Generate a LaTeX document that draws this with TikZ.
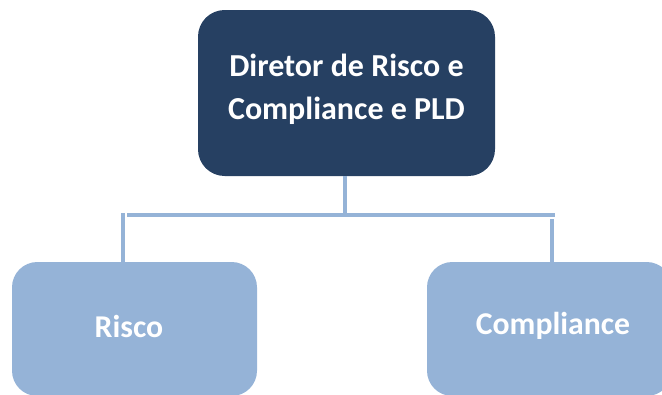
\documentclass[tikz,border=0pt]{standalone}
\usepackage{fontspec}
\setmainfont{Carlito}
\definecolor{navy}{HTML}{264062}
\definecolor{lightb}{HTML}{95B3D7}
\begin{document}
\begin{tikzpicture}[x=0.75pt,y=-0.75pt,
  topbox/.style={draw=none,fill=navy,rounded corners=20pt,minimum width=222.75pt,minimum height=124.5pt,inner sep=0pt},
  subbox/.style={draw=none,fill=lightb,rounded corners=19pt,minimum width=183.75pt,minimum height=100.5pt,inner sep=0pt},
  lbl/.style={text=white,font=\bfseries,align=center},
  conn/.style={draw=lightb,line width=2.4pt}]
\useasboundingbox (0,0) rectangle (662,394);
\clip (0,0) rectangle (662,394);
\node[topbox] (top) at (346.5,93) {};
\node[lbl,font=\fontsize{24}{32}\selectfont\bfseries] (toptext) at (346.5,89) {Diretor de Risco e\\Compliance e PLD};
\node[subbox] (left) at (134.5,329) {};
\node[lbl,font=\fontsize{23.8}{30}\selectfont\bfseries] (lefttext) at (129,326) {Risco};
\node[subbox] (right) at (549.5,329) {};
\node[lbl,font=\fontsize{23.8}{30}\selectfont\bfseries] (righttext) at (553,326) {Compliance};
\coordinate (hj) at (345,215);
\coordinate (hl) at (127,215);
\coordinate (hr) at (555,215);
\coordinate (lt) at (123,213);
\coordinate (rt) at (552,219);
\draw[conn] (top.south -| hj) -- (hj);
\draw[conn] (hl) -- (hr);
\draw[conn] (lt) -- (lt |- left.north);
\draw[conn] (rt) -- (rt |- right.north);
\end{tikzpicture}
\end{document}
